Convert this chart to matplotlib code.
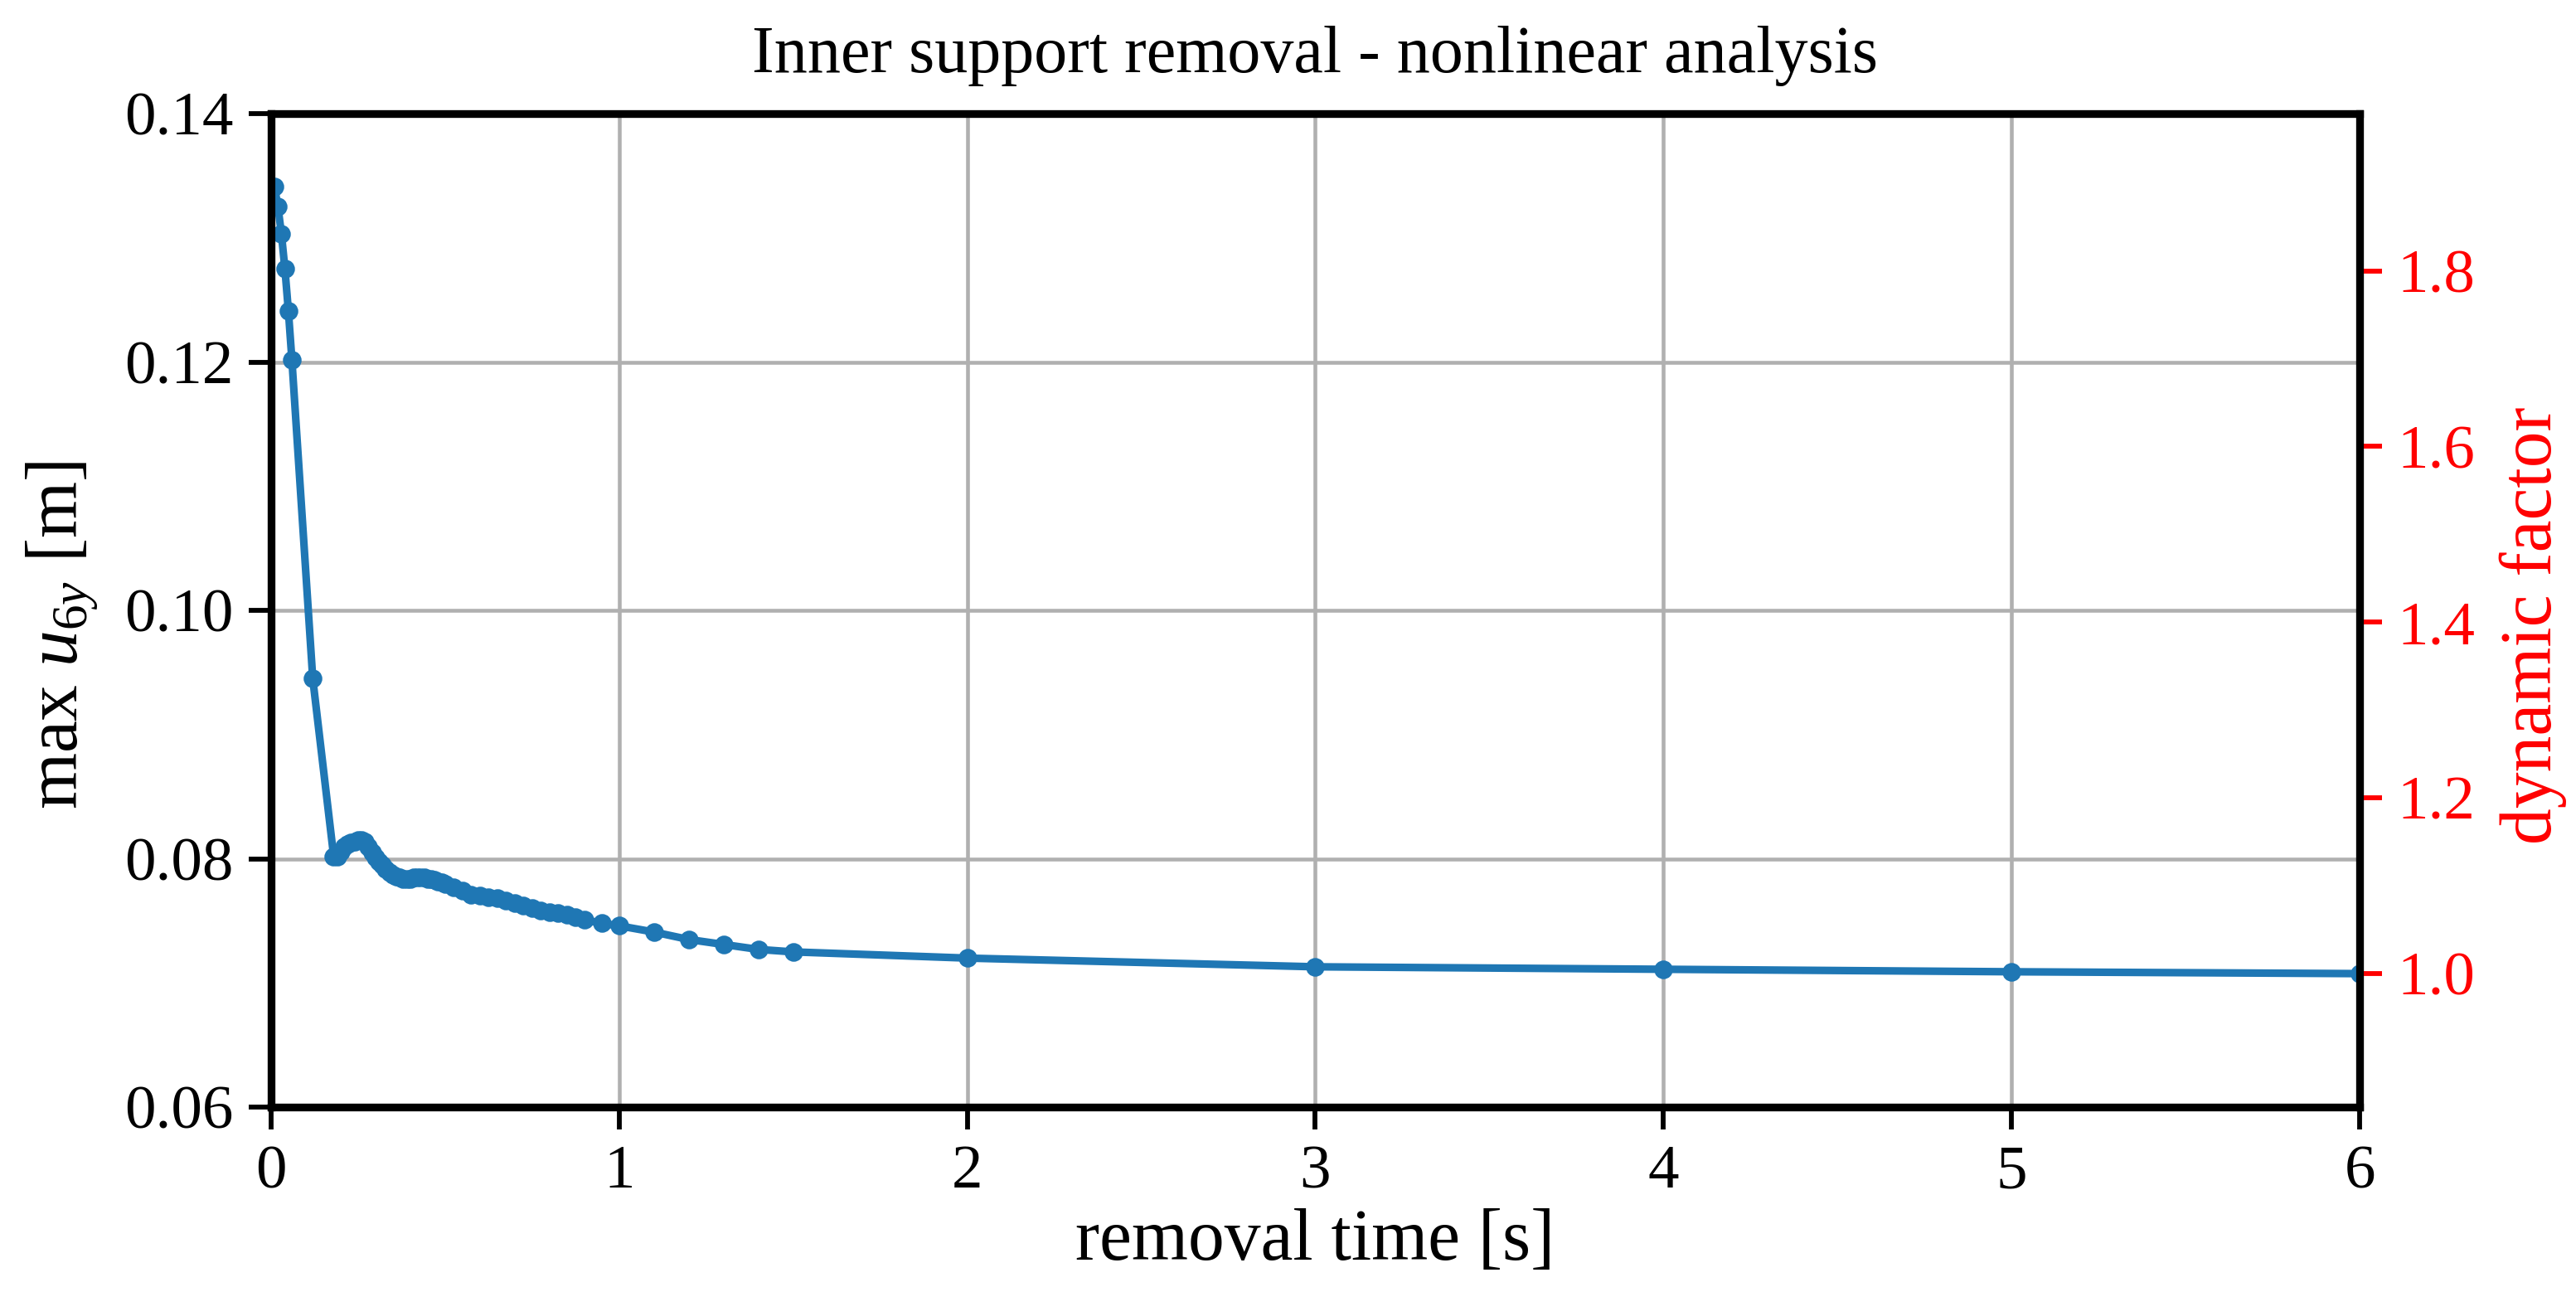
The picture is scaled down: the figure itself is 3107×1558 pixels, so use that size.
import numpy as np
from matplotlib import pyplot as plt

# removal time [s] and max displacement u_6y [m]
t_removal = [0.01, 0.02, 0.03, 0.04, 0.05, 0.06, 0.12,
             0.18, 0.19, 0.20, 0.21, 0.22, 0.23, 0.24, 0.25, 0.26, 0.27,
             0.28, 0.29, 0.30, 0.31, 0.32, 0.33, 0.34, 0.35, 0.36, 0.37,
             0.38, 0.39, 0.40, 0.41, 0.42, 0.43, 0.44, 0.45, 0.46, 0.47,
             0.48, 0.49,
             0.500, 0.525, 0.550, 0.575, 0.600, 0.625, 0.650, 0.675, 0.700,
             0.725, 0.750, 0.775, 0.800, 0.825, 0.850, 0.875, 0.900,
             0.95, 1.0, 1.1, 1.2, 1.3, 1.4, 1.5,
             2.0, 3.0, 4.0, 5.0, 6.0]
u_max = [0.1341, 0.1325, 0.1303, 0.1275, 0.1241, 0.1202, 0.0945,
         0.0802, 0.0802, 0.0806, 0.0810, 0.0812, 0.0813, 0.0814, 0.0815, 0.0815, 0.0814,
         0.0810, 0.0805, 0.0801, 0.0798, 0.0795, 0.0792, 0.0789, 0.0787, 0.0786, 0.0785,
         0.0784, 0.0784, 0.0784, 0.0785, 0.0785, 0.0785, 0.0785, 0.0784, 0.0784, 0.0783,
         0.0782, 0.0781,
         0.0780, 0.0777, 0.0774, 0.0771, 0.0770, 0.0769, 0.0768, 0.0766, 0.0764,
         0.0762, 0.0760, 0.0758, 0.0757, 0.0756, 0.0755, 0.0753, 0.0751,
         0.0748, 0.0746, 0.0741, 0.0735, 0.0731, 0.0727, 0.0725,
         0.0720, 0.0713, 0.0711, 0.0709, 0.07075]

x_ticks = [0, 1, 2, 3, 4, 5, 6]
y_ticks = [0.06, 0.08, 0.10, 0.12, 0.14]
df_ticks = [1.0, 1.2, 1.4, 1.6, 1.8]

plt.rcParams['font.family'] = ['Liberation Serif', 'DejaVu Serif']
plt.rcParams['mathtext.fontset'] = 'custom'
plt.rcParams['mathtext.rm'] = 'Liberation Serif'
plt.rcParams['mathtext.it'] = 'Liberation Serif:italic'

fig = plt.figure(figsize=(3107 / 300, 1558 / 300), dpi=300)
ax = fig.add_axes([0.1052, 0.1431, 0.916 - 0.1052, 0.912 - 0.1431])

ax.plot(t_removal, u_max, '-o', color='#1f77b4', lw=2.2, markersize=4.4, zorder=3)

ax.set_xlim(0, 6)
ax.set_ylim(0.06, 0.14)
ax.set_xticks(x_ticks)
ax.set_yticks(y_ticks)
ax.set_yticklabels(['%.2f' % v for v in y_ticks])
ax.grid(True, color='#b0b0b0', lw=1.1)
ax.tick_params(axis='both', labelsize=18, length=6.5, width=1.4, pad=4.5)
ax.set_xlabel('removal time [s]', fontsize=21, labelpad=2)
ax.set_ylabel(r'max $u_{6y}$ [m]', fontsize=21, labelpad=7)
ax.yaxis.label.set_y(0.475)
ax.set_title('Inner support removal - nonlinear analysis', fontsize=19.2, pad=12)

# dynamic factor axis: displacement over the static (slow removal) value
u_static = u_max[-1]
ax2 = ax.twinx()
ax2.set_ylim(0.06 / u_static, 0.14 / u_static)
ax2.set_yticks(df_ticks)
ax2.set_yticklabels(['%.1f' % v for v in df_ticks])
ax2.tick_params(axis='y', colors='red', labelsize=18, length=6.5, width=1.4, pad=4.5)
ax2.set_ylabel('dynamic factor', color='red', fontsize=21, labelpad=7)
ax2.yaxis.label.set_y(0.485)

for a in (ax, ax2):
    for s in a.spines.values():
        s.set_linewidth(2.2)
        s.set_color('black')

fig.savefig('out.png', dpi=300)
